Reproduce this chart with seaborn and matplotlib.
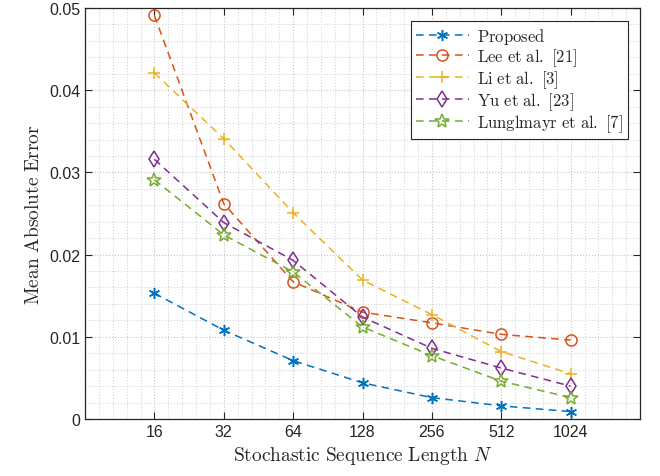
import numpy as np
import pandas as pd
import matplotlib
matplotlib.use('Agg')
import matplotlib.pyplot as plt
from matplotlib.ticker import FixedLocator, NullFormatter
import seaborn as sns

sns.set_style('ticks')
plt.rcParams['font.family'] = ['Liberation Sans', 'DejaVu Sans']
plt.rcParams['mathtext.fontset'] = 'cm'

# data
seq_len = [16, 32, 64, 128, 256, 512, 1024]
proposed = [0.0153, 0.0108, 0.0071, 0.0044, 0.0026, 0.0016, 0.0009]
lee = [0.0491, 0.0262, 0.0167, 0.0130, 0.0117, 0.0103, 0.0096]
li = [0.0421, 0.0341, 0.0251, 0.0169, 0.0127, 0.0082, 0.0055]
yu = [0.0316, 0.0239, 0.0193, 0.0124, 0.0086, 0.0062, 0.0040]
lunglmayr = [0.0291, 0.0224, 0.0179, 0.0112, 0.0077, 0.0046, 0.0026]

labels = [r'$\mathrm{Proposed}$', r'$\mathrm{Lee\ et\ al.\ [21]}$', r'$\mathrm{Li\ et\ al.\ [3]}$',
          r'$\mathrm{Yu\ et\ al.\ [23]}$', r'$\mathrm{Lunglmayr\ et\ al.\ [7]}$']
series = [proposed, lee, li, yu, lunglmayr]
colors = ['#0072BD', '#D95319', '#EDB120', '#7E2F8E', '#77AC30']
markers = [(6, 2, 0), 'o', '+', 'd', '*']
msizes = [8, 8, 9, 8, 10]

fig = plt.figure(figsize=(6.6, 4.77), dpi=100)
ax = fig.add_axes([0.1288, 0.1195, 0.8409, 0.8616])

for vals, lab, c, m, ms in zip(series, labels, colors, markers, msizes):
    sns.lineplot(x=seq_len, y=vals, ax=ax, color=c, label=lab,
                 linestyle=(0, (5, 3.5)), linewidth=1.1, marker=m, markersize=ms,
                 markerfacecolor='none', markeredgecolor=c, markeredgewidth=1.1)

ax.set_xscale('log', base=2)
ax.set_xlim(8, 2048)
ax.set_ylim(0, 0.05)
ax.set_xticks(seq_len)
ax.set_xticklabels([str(v) for v in seq_len])
ax.set_yticks([0, 0.01, 0.02, 0.03, 0.04, 0.05])
ax.set_yticklabels(['0', '0.01', '0.02', '0.03', '0.04', '0.05'])
ax.xaxis.set_minor_locator(FixedLocator([2 ** (3 + 0.2 * j) for j in range(41)]))
ax.xaxis.set_minor_formatter(NullFormatter())
ax.yaxis.set_minor_locator(FixedLocator(np.arange(0, 0.0501, 0.002)))

ax.grid(True, which='minor', linestyle=':', color='#d6d6d6', linewidth=0.8)
ax.grid(True, which='major', linestyle=':', color='#c4c4c4', linewidth=0.8)
ax.set_axisbelow(True)
ax.tick_params(which='major', direction='in', length=5, top=True, right=True,
               labelsize=11.5, color='#262626', labelcolor='#262626')
ax.tick_params(which='minor', length=0)
for s in ax.spines.values():
    s.set_color('#262626')
    s.set_linewidth(0.9)

ax.set_xlabel(r'$\mathrm{Stochastic\ Sequence\ Length}\ N$', fontsize=14, color='#262626')
ax.set_ylabel(r'$\mathrm{Mean\ Absolute\ Error}$', fontsize=14, color='#262626')

leg = ax.legend(loc='upper right', fontsize=12, fancybox=False, edgecolor='#262626',
                framealpha=1, handlelength=3.2, borderaxespad=0.75, labelspacing=0.02,
                borderpad=0.3, handletextpad=0.45)
leg.get_frame().set_linewidth(0.8)

plt.savefig('out.png', dpi=100)
